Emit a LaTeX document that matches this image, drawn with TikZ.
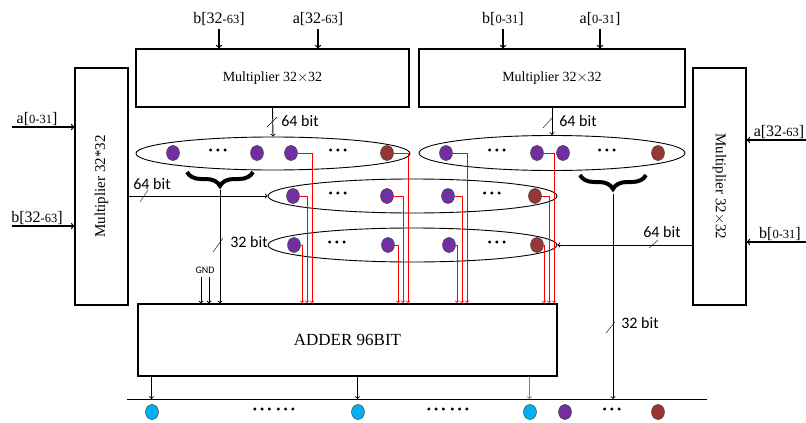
\documentclass[tikz,border=0pt]{standalone}
\usepackage{fontspec}
\setmainfont{Liberation Serif}
\newfontfamily\bitfont{Carlito}
\usetikzlibrary{shapes.geometric,decorations.pathreplacing}
\definecolor{purp}{RGB}{112,48,160}
\definecolor{brwn}{RGB}{149,55,52}
\definecolor{cyanb}{RGB}{0,176,240}
\newcommand\sm[1]{{\fontsize{12.5}{13}\selectfont #1}}
\newcommand\ddd{\textbullet\hspace{3pt}\textbullet\hspace{3pt}\textbullet}

\begin{document}
\begin{tikzpicture}[x=1pt,y=-1pt,
    box/.style={draw, line width=1.1pt, inner sep=0pt, font=\fontsize{14}{14}\selectfont},
    ring/.style={draw, ellipse, line width=0.9pt, inner sep=0pt},
    bitdot/.style={draw=black!80, ellipse, inner sep=0pt, minimum width=13pt, minimum height=15pt},
    pur/.style={bitdot, fill=purp},
    brn/.style={bitdot, fill=brwn},
    cyn/.style={bitdot, fill=cyanb},
    lab/.style={font=\fontsize{16}{16}\selectfont},
    bits/.style={font=\bitfont\fontsize{16}{16}\selectfont},
    dots/.style={font=\fontsize{12}{12}\selectfont},
    wire/.style={->, line width=0.9pt},
    inw/.style={->, line width=1.3pt},
    redw/.style={->, red, line width=0.7pt},
    brace/.style={decorate, decoration={brace, mirror, amplitude=14pt}, line width=4pt}]
    \useasboundingbox (0,0) rectangle (806,423);

    % multipliers
    \node[box, minimum width=273pt, minimum height=58pt] (m1) at (272.5,78) {Multiplier 32$\times$32};
    \node[box, minimum width=266pt, minimum height=58pt] (m2) at (552,78) {Multiplier 32$\times$32};
    \node[box, minimum width=53pt, minimum height=237pt] (mL) at (101.5,186.5) {};
    \node[rotate=90, font=\fontsize{15}{15}\selectfont] at (mL) {Multiplier 32*32};
    \node[box, minimum width=53pt, minimum height=237pt] (mR) at (719.5,186.5) {};
    \node[rotate=-90, font=\fontsize{15}{15}\selectfont] at (mR) {Multiplier 32$\times$32};
    \node[box, minimum width=419pt, minimum height=72pt, font=\fontsize{17}{17}\selectfont] (add) at (347.5,340) {ADDER 96BIT};

    % inputs
    \node[lab] (ib1) at (219,19) {b[32\sm{-63}]};
    \node[lab] (ia1) at (318,19) {a[32\sm{-63}]};
    \node[lab] (ib2) at (503,19) {b[\sm{0-31}]};
    \node[lab] (ia2) at (600,19) {a[\sm{0-31}]};
    \foreach \n/\m in {ib1/m1, ia1/m1, ib2/m2, ia2/m2}
        \draw[inw] (\n.south) -- (\n.south |- \m.north);
    \coordinate (la) at (12,127);
    \coordinate (lb) at (12,226);
    \coordinate (ra) at (806,140);
    \coordinate (rb) at (806,242);
    \node[lab, above] at (37,129) {a[\sm{0-31}]};
    \node[lab, above] at (37,228) {b[32\sm{-63}]};
    \node[lab, above] at (779,142) {a[32\sm{-63}]};
    \node[lab, above] at (780,244) {b[\sm{0-31}]};
    \draw[inw] (la) -- (la -| mL.west);
    \draw[inw] (lb) -- (lb -| mL.west);
    \draw[inw] (ra) -- (ra -| mR.east);
    \draw[inw] (rb) -- (rb -| mR.east);

    % partial products
    \node[ring, minimum width=274pt, minimum height=33pt] (e1) at (273,153.5) {};
    \node[ring, minimum width=266pt, minimum height=35pt] (e2) at (552,153) {};
    \node[ring, minimum width=289pt, minimum height=34pt] (e3) at (412.5,196) {};
    \node[ring, minimum width=289pt, minimum height=34pt] (e4) at (412.5,245) {};

    \node[pur] (a1) at (173,153) {};
    \node[pur] (a2) at (257,153) {};
    \node[pur] (a3) at (291,153) {};
    \node[brn] (a4) at (387,153) {};
    \node[dots] at (218,152) {\ddd};
    \node[dots] at (338,152) {\ddd};

    \node[pur] (b1) at (446,153) {};
    \node[pur] (b2) at (537,153) {};
    \node[pur] (b3) at (563,153) {};
    \node[brn] (b4) at (658,153) {};
    \node[dots] at (497,152) {\ddd};
    \node[dots] at (607,152) {\ddd};

    \node[pur] (c1) at (293,196) {};
    \node[pur] (c2) at (387,196) {};
    \node[pur] (c3) at (448,196) {};
    \node[brn] (c4) at (535,196) {};
    \node[dots] at (338,195) {\ddd};
    \node[dots] at (492,195) {\ddd};

    \node[pur] (d1) at (294,245) {};
    \node[pur] (d2) at (388,245) {};
    \node[pur] (d3) at (449,245) {};
    \node[brn] (d4) at (537,245) {};
    \node[dots] at (337,244) {\ddd};
    \node[dots] at (497,244) {\ddd};

    % 64 bit buses
    \draw[wire] (m1.south) -- (e1.north);
    \draw (267,127) -- (277,117);
    \node[bits] at (300,121) {64 bit};
    \draw[wire] (m2.south) -- (e2.north);
    \draw (543,128) -- (553,117);
    \node[bits] at (578,121) {64 bit};
    \draw[wire] (e3.west -| mL.east) -- (e3.west);
    \draw (140,202) -- (148,190);
    \node[bits] at (152,184) {64 bit};
    \draw[wire] (e4.east -| mR.west) -- (e4.east);
    \draw (649,248) -- (658,240);
    \node[bits] at (662,232) {64 bit};

    % red wires into the adder
    \foreach \s/\x in {d1/302, c1/307, a3/312, d2/398, c2/403, a4/408,
                       d3/457, c3/462, b1/467, d4/544, c4/549, b2/554} {
        \coordinate (t-\s) at (\x,303);
        \draw[redw] (\s.east) -| (t-\s);
    }

    % high halves
    \draw[brace] (187,172) -- (253,172);
    \coordinate (br1) at (220,190);
    \draw[wire] (br1) -- (br1 |- add.north);
    \draw (213,252) -- (223,238);
    \node[bits] at (249,242) {32 bit};
    \node[font=\bitfont\fontsize{10}{10}\selectfont] (gnd) at (205,270) {GND};
    \draw[wire] ([xshift=-4pt]gnd.south) -- ([xshift=-4pt]gnd.south |- add.north);
    \draw[wire] ([xshift=4pt]gnd.south) -- ([xshift=4pt]gnd.south |- add.north);

    \draw[brace] (580,175) -- (646,175);
    \coordinate (br2) at (613,194);

    % output bus
    \coordinate (busL) at (127,399);
    \coordinate (busR) at (707,399);
    \draw[line width=0.8pt] (busL) -- (busR);
    \draw[wire] (br2) -- (br2 |- busL);
    \draw (606,333) -- (615,322);
    \node[bits] at (640,323) {32 bit};
    \draw[wire] ([xshift=14pt]add.south west) -- ([xshift=14pt]add.south west |- busL);
    \draw[wire] ([xshift=220pt]add.south west) -- ([xshift=220pt]add.south west |- busL);
    \draw[wire, gray] ([xshift=392pt]add.south west) -- ([xshift=392pt]add.south west |- busL);

    \node[cyn] (o1) at (152,412) {};
    \node[cyn] (o2) at (358,412) {};
    \node[cyn] (o3) at (530,412) {};
    \node[pur] (o4) at (565,412) {};
    \node[brn] (o5) at (658,412) {};
    \node[dots] at (274,411) {\ddd\hspace{5pt}\ddd};
    \node[dots] at (448,411) {\ddd\hspace{5pt}\ddd};
    \node[dots] at (612,411) {\ddd};
\end{tikzpicture}
\end{document}
